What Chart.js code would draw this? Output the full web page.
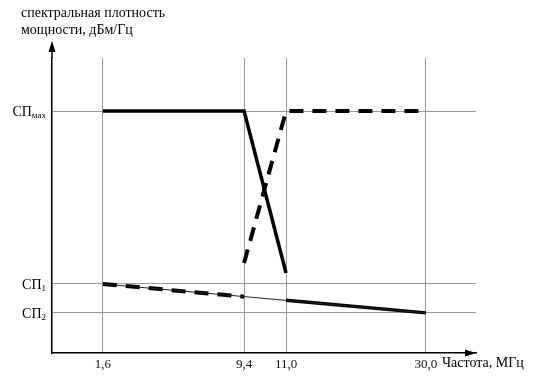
<!DOCTYPE html>
<html>
<head>
<meta charset="utf-8">
<script src="https://cdn.jsdelivr.net/npm/chart.js@4/dist/chart.umd.min.js"></script>
<style>
  body { margin: 0; background: #fff; }
  canvas { display: block; }
</style>
</head>
<body>
<canvas id="psd_chart" width="546" height="387"></canvas>
<script>
// frequency ticks (MHz) and their labels
const freqTicks = [1.6, 9.4, 11.0, 30.0];
const freqLabels = ['1,6', '9,4', '11,0', '30,0'];

// power spectral density levels (relative units, 0..100 of the axis)
const levelTicks = [13.6, 23.4, 82.0];
const levelMain = ['СП', 'СП', 'СП'];
const levelSub = ['2', '1', 'мах'];

// heavy solid curve
const solidX = [1.6, 9.4, 11.0, 11.0, 11.0, 30.0];
const solidY = [82.0, 82.0, 27.1, null, 17.9, 13.6];

// heavy dashed curve
const dashX = [1.6, 9.4, 9.4, 9.4, 11.0, 30.0];
const dashY = [23.4, 19.1, null, 30.5, 82.0, 82.0];

// thin straight line between СП1 and СП2
const thinX = [1.6, 30.0];
const thinY = [23.4, 13.6];

const serif = "'Liberation Serif', 'Times New Roman', serif";

// the frequency axis of the figure is schematic: piecewise linear
var knotValues = [0, 1.6, 9.4, 11.0, 30.0, 34.0];
var knotDecimals = [0, 0.120, 0.453, 0.552, 0.882, 1];

function interp(v, from, to) {
    for (var i = 1; i < from.length; i++) {
        if (v <= from[i] || i === from.length - 1) {
            var t = (v - from[i - 1]) / (from[i] - from[i - 1]);
            return to[i - 1] + t * (to[i] - to[i - 1]);
        }
    }
}

class SchemeScale extends Chart.LinearScale {
    getPixelForValue(value) {
        return this.getPixelForDecimal(interp(value, knotValues, knotDecimals));
    }
    getValueForPixel(pixel) {
        return interp(this.getDecimalForPixel(pixel), knotDecimals, knotValues);
    }
}
SchemeScale.id = 'scheme';
SchemeScale.defaults = Chart.LinearScale.defaults;
Chart.register(SchemeScale);

function toPoints(xs, ys) {
    return xs.map(function (x, i) { return { x: x, y: ys[i] }; });
}

var decorations = {
    id: 'decorations',
    afterDraw: function (chart) {
        var ctx = chart.ctx;
        var area = chart.chartArea;
        var yScale = chart.scales.y;
        ctx.save();
        ctx.fillStyle = '#000';
        ctx.strokeStyle = '#000';
        ctx.lineWidth = 1.5;

        // y axis arrow
        ctx.beginPath();
        ctx.moveTo(area.left, area.top);
        ctx.lineTo(area.left, 48);
        ctx.stroke();
        ctx.beginPath();
        ctx.moveTo(area.left, 41);
        ctx.lineTo(area.left - 3.5, 52);
        ctx.lineTo(area.left + 3.5, 52);
        ctx.closePath();
        ctx.fill();

        // x axis arrow
        ctx.beginPath();
        ctx.moveTo(area.right, area.bottom);
        ctx.lineTo(area.right - 11, area.bottom - 3.5);
        ctx.lineTo(area.right - 11, area.bottom + 3.5);
        ctx.closePath();
        ctx.fill();

        // level labels with subscripts
        ctx.textBaseline = 'alphabetic';
        levelTicks.forEach(function (v, i) {
            var y = yScale.getPixelForValue(v);
            ctx.font = '14px ' + serif;
            var wMain = ctx.measureText(levelMain[i]).width;
            ctx.font = '9px ' + serif;
            var wSub = ctx.measureText(levelSub[i]).width;
            var x0 = 46 - wMain - wSub;
            ctx.font = '14px ' + serif;
            ctx.textAlign = 'left';
            ctx.fillText(levelMain[i], x0, y + 5);
            ctx.font = '9px ' + serif;
            ctx.fillText(levelSub[i], x0 + wMain, y + 7);
        });

        // axis titles
        ctx.font = '14px ' + serif;
        ctx.textAlign = 'left';
        ctx.textBaseline = 'middle';
        ctx.fillText('спектральная плотность', 21, 13);
        ctx.fillText('мощности, дБм/Гц', 21, 30);
        ctx.fillText('Частота, МГц', 442, area.bottom + 10);
        ctx.restore();
    }
};

var ctx = document.getElementById('psd_chart').getContext('2d');

var psdChart = new Chart(ctx, {
    type: 'line',
    data: {
        datasets: [
            {
                data: toPoints(thinX, thinY),
                borderColor: '#222',
                borderWidth: 1,
                pointRadius: 0
            },
            {
                data: toPoints(solidX, solidY),
                borderColor: '#000',
                borderWidth: 3.5,
                pointRadius: 0,
                spanGaps: false
            },
            {
                data: toPoints(dashX, dashY),
                borderColor: '#000',
                borderWidth: 4,
                borderDash: [14, 9],
                pointRadius: 0,
                spanGaps: false
            }
        ]
    },
    options: {
        responsive: false,
        animation: false,
        devicePixelRatio: 1,
        layout: { padding: { top: 58, right: 70, bottom: 0, left: 0 } },
        plugins: {
            legend: { display: false },
            tooltip: { enabled: false }
        },
        scales: {
            x: {
                type: 'scheme',
                min: 0,
                max: 34,
                afterBuildTicks: function (scale) {
                    scale.ticks = freqTicks.map(function (v) { return { value: v }; });
                },
                afterFit: function (scale) {
                    scale.height = 34;
                },
                ticks: {
                    autoSkip: false,
                    maxRotation: 0,
                    padding: 4,
                    color: '#111',
                    font: { family: serif, size: 13 },
                    callback: function (value, index) {
                        return freqLabels[index];
                    }
                },
                grid: { color: '#999', lineWidth: 1, drawTicks: false },
                border: { color: '#000', width: 1.5 }
            },
            y: {
                min: 0,
                max: 100,
                afterBuildTicks: function (scale) {
                    scale.ticks = levelTicks.map(function (v) { return { value: v }; });
                },
                afterFit: function (scale) {
                    scale.width = 52;
                },
                ticks: { display: false },
                grid: { color: '#999', lineWidth: 1, drawTicks: false },
                border: { color: '#000', width: 1.5 }
            }
        }
    },
    plugins: [decorations]
});
</script>
</body>
</html>
